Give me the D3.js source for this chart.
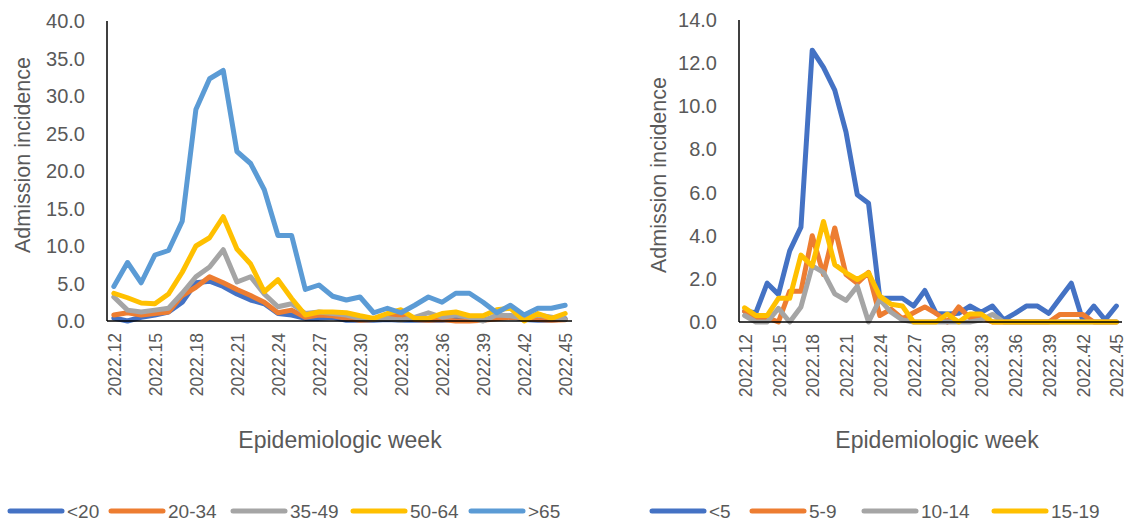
<!DOCTYPE html>
<html>
<head>
<meta charset="utf-8">
<script src="https://cdn.jsdelivr.net/npm/d3@7/dist/d3.min.js"></script>
<style>
  html, body { margin: 0; padding: 0; background: #fff; }
  svg { display: block; font-family: "Liberation Sans", Arial, sans-serif; }
</style>
</head>
<body>
<svg id="chart" width="1127" height="525"></svg>
<script>
// ---- data ----
const weeks = ["2022.12","2022.13","2022.14","2022.15","2022.16","2022.17","2022.18","2022.19","2022.20","2022.21",
  "2022.22","2022.23","2022.24","2022.25","2022.26","2022.27","2022.28","2022.29","2022.30","2022.31",
  "2022.32","2022.33","2022.34","2022.35","2022.36","2022.37","2022.38","2022.39","2022.40","2022.41",
  "2022.42","2022.43","2022.44","2022.45"];
const tickWeeks = ["2022.12","2022.15","2022.18","2022.21","2022.24","2022.27","2022.30","2022.33","2022.36","2022.39","2022.42","2022.45"];

// Left chart: adults by age group
const leftNames = ["<20", "20-34", "35-49", "50-64", ">65"];
const ageLt20 = [0.4,0.0,0.5,0.8,1.2,2.5,5.1,5.3,4.6,3.6,2.8,2.3,1.0,0.8,0.35,0.35,0.5,0.1,0.1,0.1,0.2,0.1,0.1,0.1,0.1,0.2,0.2,0.1,0.5,0.7,0.2,0.1,0.1,0.3];
const age20_34 = [0.8,1.1,0.8,1.0,1.2,3.4,4.5,5.9,5.1,4.2,3.4,2.5,1.1,1.45,0.5,0.8,0.7,0.35,0.1,0.2,0.7,0.8,0.2,0.1,0.2,0.0,0.0,0.1,0.3,0.5,0.4,0.2,0.1,0.15];
const age35_49 = [3.2,1.45,1.2,1.45,1.7,3.7,5.9,7.2,9.5,5.2,5.9,3.6,1.9,2.3,1.0,1.2,1.0,0.8,0.35,0.2,0.35,0.1,0.5,1.1,0.5,0.8,0.5,0.0,0.8,0.7,0.35,0.8,0.5,0.2];
const age50_64 = [3.7,3.1,2.4,2.3,3.6,6.5,10.0,11.1,13.9,9.6,7.6,3.9,5.5,3.0,0.8,1.2,1.2,1.1,0.7,0.35,1.0,1.5,0.35,0.35,1.0,1.2,0.7,0.7,1.5,1.7,0.0,1.0,0.35,1.0];
const ageGt65 = [4.6,7.8,5.1,8.8,9.4,13.3,28.2,32.3,33.4,22.6,21.0,17.5,11.4,11.4,4.2,4.8,3.3,2.8,3.2,1.1,1.7,1.1,2.1,3.2,2.5,3.7,3.7,2.5,1.1,2.1,0.8,1.7,1.7,2.1];
const leftTicks = [0,5,10,15,20,25,30,35,40];

// Right chart: children by age group
const rightNames = ["<5", "5-9", "10-14", "15-19"];
const ageLt5 = [0.5,0.43,1.8,1.28,3.3,4.4,12.6,11.8,10.75,8.8,5.9,5.5,1.1,1.1,1.1,0.74,1.46,0.4,0.37,0.4,0.74,0.45,0.74,0.1,0.4,0.74,0.74,0.4,1.1,1.8,0.1,0.74,0.1,0.74];
const age5_9 = [0.5,0.2,0.2,0.0,1.43,1.43,4.0,2.2,4.36,2.2,1.8,2.3,0.3,0.6,0.15,0.43,0.7,0.4,0.0,0.7,0.2,0.2,0.0,0.0,0.0,0.0,0.0,0.0,0.35,0.35,0.35,0.0,0.0,0.0];
const age10_14 = [0.3,0.0,0.0,0.63,0.0,0.7,2.6,2.3,1.3,1.0,1.66,0.0,1.05,0.45,0.1,0.0,0.0,0.0,0.0,0.0,0.0,0.1,0.35,0.0,0.0,0.0,0.0,0.0,0.0,0.0,0.0,0.0,0.0,0.0];
const age15_19 = [0.66,0.3,0.3,1.1,1.1,3.1,2.6,4.66,2.66,2.28,1.97,2.28,1.2,0.82,0.74,0.0,0.0,0.0,0.37,0.0,0.37,0.37,0.0,0.0,0.0,0.0,0.0,0.0,0.0,0.0,0.0,0.0,0.0,0.0];
const rightTicks = [0,2,4,6,8,10,12,14];

const leftColors = ["#4472C4", "#ED7D31", "#A5A5A5", "#FFC000", "#5B9BD5"];
const rightColors = ["#4472C4", "#ED7D31", "#A5A5A5", "#FFC000"];

const svg = d3.select("#chart");
const textColor = "#595959";

function drawChart(cfg) {
  const x = d3.scalePoint().domain(weeks).range([cfg.x0, cfg.x1]).padding(0.5);
  const y = d3.scaleLinear().domain([0, cfg.ymax]).range([cfg.yb, cfg.yt]);
  const g = svg.append("g");

  // y tick labels
  g.selectAll("text.ytick").data(cfg.ticks).enter().append("text")
    .attr("x", cfg.x0 - 22).attr("y", d => y(d)).attr("dy", "0.35em")
    .attr("text-anchor", "end").attr("font-size", 20).attr("fill", textColor)
    .text(d => d.toFixed(1));

  // x tick labels
  g.selectAll("text.xtick").data(tickWeeks).enter().append("text")
    .attr("transform", d => `translate(${x(d) + 1},${cfg.yb + 12}) rotate(-90)`)
    .attr("dy", "0.35em").attr("text-anchor", "end")
    .attr("font-size", 17.5).attr("fill", textColor)
    .text(d => d);

  // series
  const line = d3.line().x((d, i) => x(weeks[i])).y(d => y(d));
  cfg.series.forEach((s, k) => {
    g.append("path").datum(s).attr("d", line)
      .attr("fill", "none").attr("stroke", cfg.colors[k])
      .attr("stroke-width", 5).attr("stroke-linejoin", "round").attr("stroke-linecap", "round");
  });

  // axes lines
  g.append("line").attr("x1", cfg.x0).attr("x2", cfg.x0).attr("y1", cfg.yt).attr("y2", cfg.yb)
    .attr("stroke", "#000").attr("stroke-width", 1.5);
  g.append("line").attr("x1", cfg.x0).attr("x2", cfg.x1).attr("y1", cfg.yb).attr("y2", cfg.yb)
    .attr("stroke", "#000").attr("stroke-width", 1.5);

  // axis titles
  g.append("text").attr("transform", `translate(${cfg.ytitleX},${cfg.ytitleY}) rotate(-90)`)
    .attr("text-anchor", "middle").attr("dy", "0.35em").attr("font-size", 21.5).attr("fill", textColor)
    .text("Admission incidence");
  g.append("text").attr("x", cfg.xtitleX).attr("y", 440).attr("dy", "0.35em")
    .attr("text-anchor", "middle").attr("font-size", 23).attr("fill", textColor)
    .text("Epidemiologic week");

  // legend
  const lg = g.append("g");
  cfg.names.forEach((n, k) => {
    const lx = cfg.legendX[k];
    lg.append("line").attr("x1", lx).attr("x2", lx + 52).attr("y1", 511).attr("y2", 511)
      .attr("stroke", cfg.colors[k]).attr("stroke-width", 5).attr("stroke-linecap", "round");
    lg.append("text").attr("x", lx + 57).attr("y", 511).attr("dy", "0.35em")
      .attr("font-size", 19).attr("fill", textColor).text(n);
  });
}

drawChart({
  x0: 107, x1: 572, yt: 21, yb: 321, ymax: 40, ticks: leftTicks,
  series: [ageLt20, age20_34, age35_49, age50_64, ageGt65], colors: leftColors, names: leftNames,
  ytitleX: 22, ytitleY: 155, xtitleX: 340,
  legendX: [10, 111, 233, 353, 471]
});
drawChart({
  x0: 739, x1: 1122, yt: 20, yb: 322, ymax: 14, ticks: rightTicks,
  series: [ageLt5, age5_9, age10_14, age15_19], colors: rightColors, names: rightNames,
  ytitleX: 658, ytitleY: 175, xtitleX: 937,
  legendX: [652, 752, 864, 994]
});
</script>
</body>
</html>
